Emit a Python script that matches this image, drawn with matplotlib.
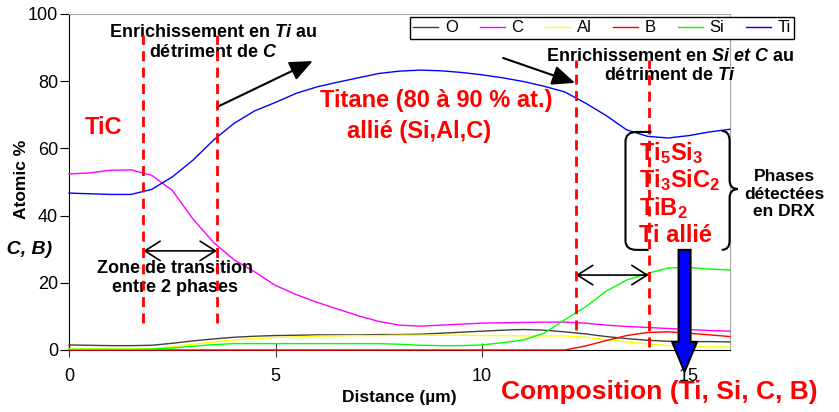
import numpy as np
import matplotlib.pyplot as plt
from matplotlib.path import Path
from matplotlib.patches import PathPatch, Polygon

plt.rcParams['font.family'] = ['Liberation Sans', 'DejaVu Sans']
plt.rcParams['mathtext.fontset'] = 'custom'
plt.rcParams['mathtext.rm'] = 'Liberation Sans:bold'
plt.rcParams['mathtext.bf'] = 'Liberation Sans:bold'
plt.rcParams['mathtext.it'] = 'Liberation Sans:italic:bold'

# profil de composition (at. %) le long de la distance (µm)
dist = [0, 0.5, 1, 1.5, 2, 2.5, 3, 3.5, 4, 4.5, 5, 5.5, 6, 6.5, 7, 7.5, 8,
        8.5, 9, 9.5, 10, 10.5, 11, 11.5, 12, 12.5, 13, 13.5, 14, 14.5, 15, 15.5, 16]
O = [1.5, 1.4, 1.3, 1.3, 1.4, 2.0, 2.7, 3.3, 3.8, 4.1, 4.3, 4.4, 4.5, 4.5, 4.5, 4.6, 4.6,
     4.7, 5.0, 5.3, 5.6, 5.9, 6.1, 5.9, 5.4, 4.8, 4.0, 3.4, 2.9, 2.6, 2.5, 2.5, 2.4]
C = [52.4, 52.7, 53.5, 53.6, 52.0, 47.5, 39.0, 32.0, 26.8, 23.2, 19.2, 16.5, 14.2, 12.2, 10.2, 8.5, 7.4,
     7.1, 7.4, 7.7, 8.0, 8.1, 8.2, 8.3, 8.3, 8.0, 7.4, 7.0, 6.7, 6.4, 6.1, 5.8, 5.6]
Al = [0.3, 0.3, 0.3, 0.3, 0.3, 1.0, 1.7, 2.4, 3.0, 3.4, 3.7, 3.9, 4.1, 4.2, 4.3, 4.3, 4.4,
      4.4, 4.4, 4.4, 4.3, 4.3, 4.2, 4.2, 4.2, 3.8, 3.1, 2.4, 1.8, 1.3, 1.0, 0.9, 0.9]
B = [0, 0, 0, 0, 0, 0, 0, 0, 0, 0, 0, 0, 0, 0, 0, 0, 0,
     0, 0, 0, 0, 0, 0, 0, 0, 1.2, 2.8, 4.3, 5.2, 5.4, 5.0, 4.5, 4.0]
Si = [0.2, 0.2, 0.2, 0.2, 0.3, 0.6, 1.1, 1.6, 1.9, 1.9, 1.9, 1.9, 1.9, 1.9, 1.9, 1.9, 1.7,
      1.4, 1.3, 1.3, 1.5, 2.2, 3.0, 5.0, 9.0, 12.8, 17.5, 20.8, 22.8, 24.4, 24.6, 24.1, 23.8]
Ti = [46.7, 46.5, 46.3, 46.3, 47.8, 51.5, 56.5, 62.5, 67.5, 71.2, 73.7, 76.4, 78.3, 79.7, 81.0, 82.3, 83.0,
      83.3, 83.1, 82.6, 81.9, 81.0, 79.9, 78.5, 76.8, 73.5, 69.8, 65.5, 63.6, 63.1, 63.8, 64.9, 65.7]

series = [('O', O, '#404040'), ('C', C, '#ff00ff'), ('Al', Al, '#ffff00'),
          ('B', B, '#ff0000'), ('Si', Si, '#00ff00'), ('Ti', Ti, '#0000ff')]

fig = plt.figure(figsize=(8.39, 4.12), dpi=100)
ax = fig.add_axes([69/839, 1-350/412, 661/839, 336/412])

for name, vals, col in series:
    ax.plot(dist, vals, color=col, lw=1.0, label=name, clip_on=False, zorder=3)

ax.set_xlim(0, 16)
ax.set_ylim(0, 100)
ax.set_xticks([0, 5, 10, 15])
ax.set_yticks([0, 20, 40, 60, 80, 100])
ax.tick_params(axis='y', direction='out', length=6.5, pad=1.5, labelsize=13)
ax.tick_params(axis='x', direction='inout', length=10, pad=8, labelsize=13, color='#404040')
for s in ['top', 'right']:
    ax.spines[s].set_color('#a6a6a6')
ax.spines['left'].set_color('black')
ax.spines['bottom'].set_color('black')

ax.set_xlabel('Distance (µm)', fontsize=12.5, fontweight='bold')
ax.xaxis.label.set_va('center')
ax.xaxis.set_label_coords(0.5, -0.14)
ax.set_ylabel('Atomic %', fontsize=12.5, fontweight='bold')
ax.yaxis.label.set_va('center')
ax.yaxis.set_label_coords(-0.072, 0.509)

leg = ax.legend(loc='upper left', bbox_to_anchor=(410/839, 1-17/412), bbox_transform=fig.transFigure,
                ncol=6, fontsize=12, handlelength=1.5, handletextpad=0.4, columnspacing=1.3,
                borderpad=0.2, borderaxespad=0, fancybox=False, framealpha=1)
leg.get_frame().set_edgecolor('black')
leg.get_frame().set_linewidth(1)

# limites des zones (pointillés rouges)
zones = [(1.80, 8, 93.7), (3.58, 8, 93.7), (12.27, 6, 86.3), (14.03, 1, 86.3)]
for xz, y0, y1 in zones:
    ax.plot([xz, xz], [y0, y1], color='#ff0000', lw=2, dashes=(3.6, 2.3), zorder=4)

# flèches
ax.annotate('', xy=(5.9, 86), xytext=(3.58, 72.3),
            arrowprops=dict(arrowstyle='-|>,head_length=1.4,head_width=0.6', color='black',
                            lw=1.5, shrinkA=0, shrinkB=0))
ax.annotate('', xy=(12.25, 79.5), xytext=(10.51, 86.9),
            arrowprops=dict(arrowstyle='-|>,head_length=1.4,head_width=0.6', color='black',
                            lw=1.5, shrinkA=0, shrinkB=0))
ax.annotate('', xy=(3.58, 29.5), xytext=(1.80, 29.5),
            arrowprops=dict(arrowstyle='<->,head_length=1.1,head_width=0.7', color='black',
                            lw=1.2, shrinkA=0, shrinkB=0))
ax.annotate('', xy=(14.03, 22.3), xytext=(12.27, 22.3),
            arrowprops=dict(arrowstyle='<->,head_length=1.1,head_width=0.7', color='black',
                            lw=1.2, shrinkA=0, shrinkB=0))

# textes
ax.text(3.49, 91.5, 'Enrichissement en $\\mathit{Ti}$ au\ndétriment de $\\mathit{C}$',
        ha='center', va='center', fontsize=13, fontweight='bold', linespacing=1.2)
ax.text(14.55, 84.5, 'Enrichissement en $\\mathit{Si\\ et\\ C}$ au\ndétriment de $\\mathit{Ti}$',
        ha='center', va='center', fontsize=13, fontweight='bold', linespacing=1.2, clip_on=False)
ax.text(2.57, 21.3, 'Zone de transition\nentre 2 phases', ha='center', va='center',
        fontsize=13, fontweight='bold', linespacing=1.15)
ax.text(0.39, 66.1, 'TiC', color='#ff0000', ha='left', va='center', fontsize=17, fontweight='bold')
ax.text(6.08, 74.4, 'Titane (80 à 90 % at.)', color='#ff0000', ha='left', va='center',
        fontsize=17, fontweight='bold')
ax.text(6.73, 64.9, 'allié (Si,Al,C)', color='#ff0000', ha='left', va='center',
        fontsize=17, fontweight='bold')

phases = ['Ti$_\\mathbf{5}$Si$_\\mathbf{3}$', 'Ti$_\\mathbf{3}$SiC$_\\mathbf{2}$',
          'TiB$_\\mathbf{2}$', 'Ti allié']
for lab, yb in zip(phases, [56.5, 48.4, 40.2, 32.1]):
    ax.text(13.79, yb, lab, color='#ff0000', ha='left', va='baseline', fontsize=17,
            fontweight='bold', clip_on=False, zorder=5)

ax.text(17.31, 46.4, 'Phases\ndétectées\nen DRX', ha='center', va='center', fontsize=12.5,
        fontweight='bold', linespacing=1.2, clip_on=False)

# accolade
MV, LT, C3 = Path.MOVETO, Path.LINETO, Path.CURVE3
left_br = Path([(14.10, 64.9), (13.74, 64.9), (13.47, 64.9), (13.47, 62.0), (13.47, 32.5),
                (13.47, 29.8), (13.74, 29.8), (14.03, 29.8)],
               [MV, LT, C3, C3, LT, C3, C3, LT])
right_br = Path([(15.80, 65.2), (15.99, 65.2), (15.99, 62.2), (15.99, 50.5), (15.99, 48.0),
                 (16.19, 47.9), (15.99, 47.8), (15.99, 45.3), (15.99, 32.5), (15.99, 29.8),
                 (15.80, 29.8)],
                [MV, C3, C3, LT, C3, C3, C3, C3, LT, C3, C3])
for p in (left_br, right_br):
    ax.add_patch(PathPatch(p, fill=False, color='black', lw=1.5, clip_on=False, zorder=5))

# grosse flèche bleue
cx, hs, hh = 14.90, 0.145, 0.30
arrow = Polygon([(cx - hs, 29.8), (cx + hs, 29.8), (cx + hs, 2.4), (cx + hh, 2.4), (cx, -6.5),
                 (cx - hh, 2.4), (cx - hs, 2.4)], closed=True, facecolor='#0000ff',
                edgecolor='black', lw=1.5, clip_on=False, zorder=6)
ax.add_patch(arrow)

fig.text(659/839, 1-392/412, 'Composition (Ti, Si, C, B)', color='#ff0000', ha='center',
         va='center', fontsize=19, fontweight='bold')
fig.text(52/839, 1-250/412, 'Composition (Ti, Si, C, B)', color='black', ha='right',
         va='center', fontsize=14, fontweight='bold', fontstyle='italic')

fig.savefig('out.png', dpi=100)
